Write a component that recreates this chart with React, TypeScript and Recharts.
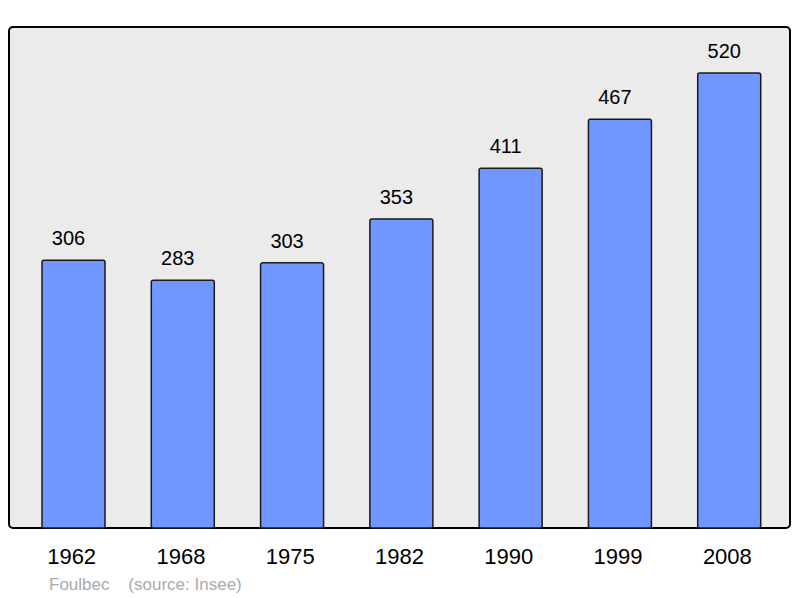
import React from 'react';
import * as R from 'recharts';
import { BarChart, Bar, XAxis, YAxis, LabelList } from 'recharts';

const years = ['1962', '1968', '1975', '1982', '1990', '1999', '2008'];
const population = [306, 283, 303, 353, 411, 467, 520];
const yMax = 572.5;

const data = years.map((y, i) => ({ year: y, pop: population[i] }));

const Frame = () => {
  const hook = (R as any).usePlotArea;
  const area = hook ? hook() : null;
  const x = area ? area.x : 1;
  const y = area ? area.y : 19;
  const w = area ? area.width : 781;
  const h = area ? area.height : 501;
  return (
    <rect x={x} y={y} width={w} height={h} rx={4} ry={4} fill="#ebebeb" stroke="#000" strokeWidth={2} />
  );
};

export default function App() {
  return (
    <div style={{ position: 'relative', width: 792, height: 590 }}>
      <BarChart
        width={792}
        height={590}
        data={data}
        margin={{ top: 19, left: 1, right: 10, bottom: 30 }}
        barSize={63}
      >
        <Frame />
        <XAxis
          dataKey="year"
          height={40}
          axisLine={false}
          tickLine={false}
          tickMargin={14}
          padding={{ left: 10, right: 6 }}
          tick={{ fill: '#000', fontSize: 22, dx: -2, fontFamily: 'Liberation Sans, Arial, sans-serif' }}
        />
        <YAxis hide domain={[0, yMax]} />
        <Bar dataKey="pop" fill="#7097ff" stroke="#1a1a1a" strokeWidth={1.5} radius={2} isAnimationActive={false}>
          <LabelList
            dataKey="pop"
            position="top"
            offset={15}
            dx={-5}
            fill="#000"
            fontSize={20}
            fontFamily="Liberation Sans, Arial, sans-serif"
          />
        </Bar>
      </BarChart>
      <div
        style={{
          position: 'absolute',
          left: 41,
          top: 567,
          fontFamily: 'Liberation Sans, Arial, sans-serif',
          fontSize: 17,
          color: '#aaaaaa',
          whiteSpace: 'pre',
        }}
      >
        {'Foulbec    (source: Insee)'}
      </div>
    </div>
  );
}
